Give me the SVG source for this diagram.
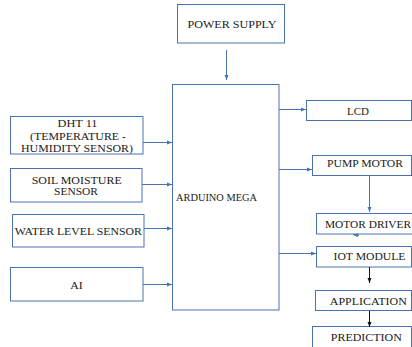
<svg xmlns="http://www.w3.org/2000/svg" width="412" height="347" viewBox="0 0 412 347">
<defs>
<marker id="ab" viewBox="0 0 10 10" refX="10" refY="5" markerWidth="5" markerHeight="5" orient="auto"><path d="M0,1 L10,5 L0,9 z" fill="#4a72b0"/></marker>
<marker id="ak" viewBox="0 0 10 10" refX="10" refY="5" markerWidth="5" markerHeight="5" orient="auto"><path d="M0,1 L10,5 L0,9 z" fill="#111"/></marker>
<style>
rect{fill:#fff;stroke:#4a72b0;stroke-width:1}
text{font-family:"Liberation Serif","Times New Roman",serif;font-size:11.4px;fill:#1a1a1a;text-anchor:middle}
.cb{stroke:#4a72b0;stroke-width:1;fill:none;marker-end:url(#ab)}
.ck{stroke:#111;stroke-width:1;fill:none;marker-end:url(#ak)}
</style>
</defs>
<rect x="0" y="0" width="412" height="347" style="fill:#fff;stroke:none"/>
<g id="power"><rect x="177.5" y="4.5" width="107" height="38.5"/><text x="232" y="28" textLength="89" lengthAdjust="spacingAndGlyphs">POWER SUPPLY</text></g>
<g id="arduino"><rect x="172.5" y="84.5" width="106.5" height="225.5"/><text x="216.5" y="201" textLength="81" lengthAdjust="spacingAndGlyphs">ARDUINO MEGA</text></g>
<g id="dht"><rect x="10.5" y="116.5" width="132.5" height="37.5"/><text x="77.5" y="127" textLength="40" lengthAdjust="spacingAndGlyphs">DHT 11</text><text x="78" y="140" textLength="96" lengthAdjust="spacingAndGlyphs">(TEMPERATURE -</text><text x="77" y="151.5" textLength="112" lengthAdjust="spacingAndGlyphs">HUMIDITY SENSOR)</text></g>
<g id="soil"><rect x="10.5" y="168.5" width="131.5" height="33.5"/><text x="76.7" y="184" textLength="90" lengthAdjust="spacingAndGlyphs">SOIL MOISTURE</text><text x="76" y="195" textLength="44" lengthAdjust="spacingAndGlyphs">SENSOR</text></g>
<g id="water"><rect x="12.5" y="214.5" width="131.5" height="32.5"/><text x="78.3" y="235" textLength="127" lengthAdjust="spacingAndGlyphs">WATER LEVEL SENSOR</text></g>
<g id="ai"><rect x="10.5" y="267.5" width="132.5" height="33.5"/><text x="76.5" y="289" textLength="12.5" lengthAdjust="spacingAndGlyphs">AI</text></g>
<g id="lcd"><rect x="306.5" y="100.5" width="105" height="20"/><text x="358" y="115" textLength="22" lengthAdjust="spacingAndGlyphs">LCD</text></g>
<g id="pump"><rect x="312.5" y="155.5" width="99" height="20"/><text x="365" y="167" textLength="76" lengthAdjust="spacingAndGlyphs">PUMP MOTOR</text></g>
<g id="driver"><rect x="316.5" y="213.5" width="96" height="20.5"/><text x="368" y="228" textLength="86" lengthAdjust="spacingAndGlyphs">MOTOR DRIVER</text></g>
<g id="iot"><rect x="316.5" y="246.5" width="95" height="20.5"/><text x="369.5" y="260" textLength="72" lengthAdjust="spacingAndGlyphs">IOT MODULE</text></g>
<g id="app"><rect x="315.5" y="290.5" width="96" height="20"/><text x="368.3" y="305" textLength="77" lengthAdjust="spacingAndGlyphs">APPLICATION</text></g>
<g id="pred"><rect x="312.5" y="326.5" width="99" height="25"/><text x="366.3" y="340.5" textLength="71" lengthAdjust="spacingAndGlyphs">PREDICTION</text></g>
<g id="connectors">
<line class="cb" x1="226.5" y1="50" x2="226.5" y2="80"/>
<line class="cb" x1="143" y1="142.5" x2="172" y2="142.5"/>
<line class="cb" x1="142" y1="184.5" x2="172" y2="184.5"/>
<line class="cb" x1="144" y1="228.5" x2="172" y2="228.5"/>
<line class="cb" x1="143" y1="284.5" x2="172" y2="284.5"/>
<line class="cb" x1="279" y1="109.5" x2="306" y2="109.5"/>
<line class="cb" x1="279" y1="169.5" x2="312" y2="169.5"/>
<line class="cb" x1="279" y1="253.5" x2="316" y2="253.5"/>
<line class="cb" x1="369.5" y1="176" x2="369.5" y2="212"/>
<line class="cb" x1="359" y1="235.5" x2="353" y2="234.5"/>
<line class="ck" x1="369.5" y1="267" x2="369.5" y2="283"/>
<line class="ck" x1="369.5" y1="311" x2="369.5" y2="327"/>
</g>
</svg>
